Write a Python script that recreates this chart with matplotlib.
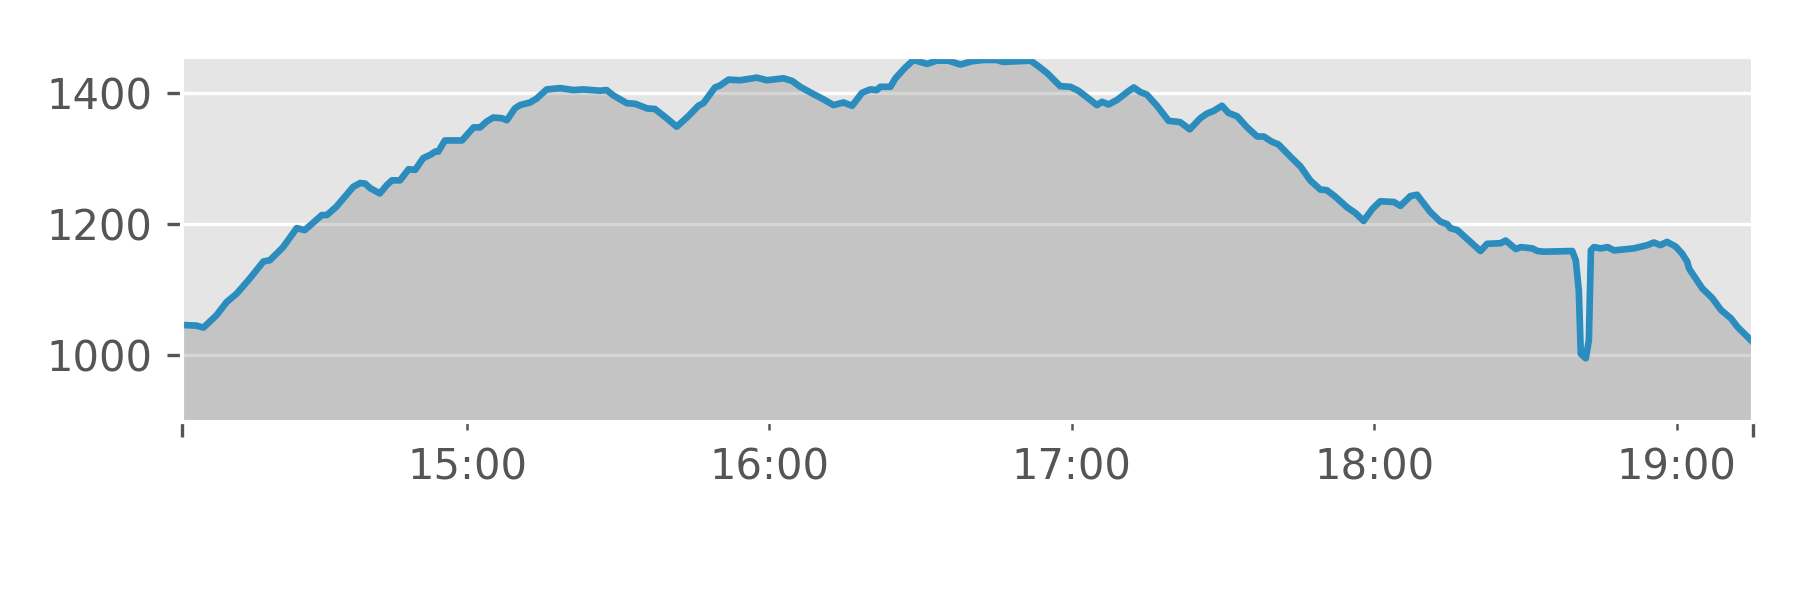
import matplotlib
matplotlib.use("Agg")
import matplotlib.pyplot as plt
import matplotlib.dates as mdates
from matplotlib.ticker import FixedLocator, NullFormatter
import pandas as pd

plt.style.use("ggplot")

# minutes after 14:00 and values
minutes = [3.4, 6.3, 7.7, 10.3, 12.3, 14.3, 16.9, 19.6, 20.9, 23.5, 26.2, 27.8,
           31.2, 32.2, 34.1, 37.4, 38.8, 39.8, 40.8, 42.7, 44.1, 45.1, 46.7, 48.4,
           49.7, 51.3, 52.7, 53.7, 54.3, 55.6, 59.0, 61.3, 62.6, 63.9, 65.2, 66.9,
           67.9, 69.5, 70.5, 72.5, 73.8, 75.8, 78.5, 81.1, 83.1, 86.4, 87.7, 89.0,
           91.7, 93.4, 95.7, 97.3, 99.6, 101.6, 103.9, 105.9, 106.9, 109.2, 110.2,
           111.9, 114.2, 117.5, 119.5, 122.8, 124.5, 126.1, 128.7, 130.7, 132.7,
           134.7, 136.4, 138.4, 140.0, 141.3, 142.0, 144.0, 145.0, 146.9, 148.6,
           151.3, 153.2, 155.5, 157.9, 160.2, 162.5, 165.1, 166.4, 171.8, 173.1,
           175.1, 177.7, 179.7, 181.3, 183.0, 185.0, 186.0, 187.3, 189.0, 191.0,
           192.3, 193.6, 194.9, 196.9, 199.2, 201.5, 203.4, 205.5, 206.8, 208.1,
           209.8, 211.1, 212.8, 214.8, 216.8, 218.1, 219.7, 221.0, 223.4, 225.4,
           227.3, 229.3, 230.6, 232.3, 234.6, 236.3, 237.9, 239.6, 241.2, 243.9,
           245.2, 247.2, 248.5, 251.1, 253.1, 254.5, 255.1, 256.5, 259.1, 261.1,
           262.4, 265.1, 266.1, 268.1, 269.1, 271.4, 272.4, 273.7, 279.3, 280.0,
           280.6, 281.0, 282.0, 282.6, 283.0, 283.6, 285.0, 286.3, 287.6, 291.5,
           294.2, 295.5, 296.8, 298.1, 299.8, 301.1, 302.1, 302.5, 305.1, 307.1,
           308.8, 310.8, 312.1, 315.1]
values = [1046, 1045, 1042, 1061, 1081, 1094, 1117, 1143, 1145, 1165, 1194, 1191,
          1214, 1214, 1227, 1257, 1263, 1262, 1255, 1247, 1260, 1267, 1267, 1284,
          1283, 1301, 1306, 1311, 1311, 1328, 1328, 1348, 1348, 1357, 1363, 1362,
          1359, 1377, 1382, 1386, 1392, 1406, 1408, 1405, 1406, 1404, 1405, 1397,
          1385, 1384, 1377, 1376, 1362, 1349, 1365, 1381, 1385, 1409, 1412,
          1421, 1420, 1424, 1420, 1423, 1419, 1410, 1399, 1391, 1382,
          1386, 1381, 1401, 1406, 1405, 1410, 1410, 1423, 1439, 1451,
          1445, 1450, 1450, 1444, 1449, 1451, 1451, 1448, 1450, 1443,
          1431, 1411, 1410, 1404, 1394, 1382, 1387, 1383, 1390, 1402,
          1409, 1402, 1398, 1381, 1358, 1356, 1345, 1362, 1369, 1373,
          1381, 1370, 1365, 1348, 1334, 1334, 1326, 1322, 1303, 1288,
          1267, 1253, 1252, 1242, 1226, 1217, 1205, 1223, 1235, 1234,
          1228, 1243, 1245, 1219, 1204, 1200, 1194, 1191, 1173, 1159,
          1170, 1171, 1175, 1162, 1165, 1163, 1159, 1158, 1159, 1145,
          1099, 1002, 995, 1023, 1160, 1165, 1163, 1165, 1160, 1163,
          1168, 1172, 1168, 1173, 1166, 1155, 1143, 1132, 1102, 1087,
          1069, 1056, 1043, 1020]

times = pd.Timestamp("2020-01-01 14:00") + pd.to_timedelta(minutes, unit="min")

fig = plt.figure(figsize=(6, 2), dpi=300)
ax = fig.add_axes([0.101, 0.297, 0.8727, 0.6085])

ax.fill_between(times, values, 800, color="gray", alpha=0.32, linewidth=0)
ax.plot(times, values, color="#2b8cbe", linewidth=1.6)

ax.set_xlim(times[0], times[-1])
ax.set_ylim(898, 1456)
ax.set_yticks([1000, 1200, 1400])

ax.xaxis.set_major_locator(FixedLocator([mdates.date2num(times[0]), mdates.date2num(times[-1])]))
ax.xaxis.set_major_formatter(NullFormatter())
ax.xaxis.set_minor_locator(mdates.HourLocator())
ax.xaxis.set_minor_formatter(mdates.DateFormatter("%H:%M"))
ax.tick_params(axis="x", which="minor", labelsize=10, pad=4)
ax.tick_params(axis="both", which="major", labelsize=10)
ax.grid(True, which="major", axis="y")
ax.grid(False, axis="x")

fig.savefig("out.png")
